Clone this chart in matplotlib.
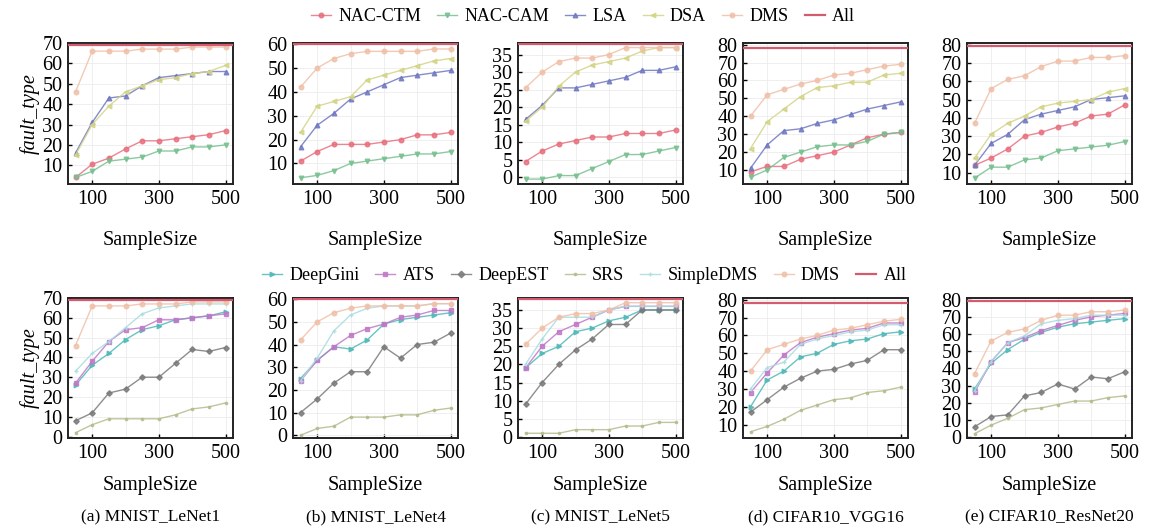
import matplotlib
matplotlib.use("Agg")
import matplotlib.pyplot as plt
from matplotlib.lines import Line2D

plt.rcParams['font.family'] = ['Liberation Serif', 'DejaVu Serif']
plt.rcParams['mathtext.fontset'] = 'stix'

sample_size = [50, 100, 150, 200, 250, 300, 350, 400, 450, 500]

captions = ['(a) MNIST_LeNet1', '(b) MNIST_LeNet4', '(c) MNIST_LeNet5',
            '(d) CIFAR10_VGG16', '(e) CIFAR10_ResNet20']

# total number of fault types per model ("All")
all_faults = [69, 60, 38, 78, 79]

# ---- top row: coverage based methods ----
nac_ctm = [
    [4, 10.5, 13.5, 18, 22, 22, 23, 24, 25, 27],
    [11, 15, 18, 18, 18, 19, 20, 22, 22, 23],
    [4.5, 7.5, 9.5, 10.5, 11.5, 11.5, 12.5, 12.5, 12.5, 13.5],
    [9, 12, 12, 16, 18, 20, 24, 28, 30, 31],
    [14, 18, 23, 30, 32, 35, 37, 41, 42, 47],
]
nac_cam = [
    [4, 7, 12, 13, 14, 17, 17, 19, 19, 20],
    [4, 5, 7, 10, 11, 12, 13, 14, 14, 15],
    [-0.5, -0.5, 0.5, 0.5, 2.5, 4.5, 6.5, 6.5, 7.5, 8.5],
    [6, 10, 17, 20, 23, 24, 24, 26, 30, 31],
    [7, 13, 13, 17, 18, 22, 23, 24, 25, 27],
]
lsa = [
    [16, 31, 43, 44, 49, 53, 54, 55, 56, 56],
    [17, 26, 31, 37, 40, 43, 46, 47, 48, 49],
    [16.5, 20.5, 25.5, 25.5, 26.5, 27.5, 28.5, 30.5, 30.5, 31.5],
    [11, 24, 32, 33, 36, 38, 41, 44, 46, 48],
    [14, 26, 31, 39, 42, 44, 46, 50, 51, 52],
]
dsa = [
    [15, 30, 39, 46, 49, 52, 53, 55, 56, 59],
    [23, 34, 36, 38, 45, 47, 49, 51, 53, 54],
    [16, 20, 26, 30, 32, 33, 34, 36, 37, 37],
    [22, 37, 44, 51, 56, 57, 59, 59, 63, 64],
    [18, 31, 37, 41, 46, 48, 49, 50, 54, 56],
]
dms = [
    [46, 66, 66, 66, 67, 67, 67, 68, 68, 68],
    [42, 50, 54, 56, 57, 57, 57, 57, 58, 58],
    [25.5, 30, 33, 34, 34, 35, 37, 37, 37, 37],
    [40, 52, 55, 58, 60, 63, 64, 66, 68, 69],
    [37, 56, 61, 63, 68, 71, 71, 73, 73, 74],
]

# ---- bottom row: prioritization / selection methods ----
deepgini = [
    [26, 36, 42, 49, 54, 56, 59, 60, 61, 63],
    [25, 33, 39, 38, 42, 49, 51, 52, 53, 54],
    [19, 23, 25, 29, 30, 32, 33, 35, 35, 35],
    [20, 35, 40, 48, 50, 55, 57, 58, 61, 62],
    [28, 43, 51, 57, 61, 64, 66, 67, 68, 69],
]
ats = [
    [27, 38, 48, 54, 55, 59, 59, 60, 61, 62],
    [24, 33, 39, 44, 47, 49, 52, 53, 55, 55],
    [19, 25, 29, 31, 33, 35, 36, 36, 36, 36],
    [28, 39, 49, 56, 59, 61, 63, 64, 67, 67],
    [26, 44, 55, 58, 62, 65, 68, 70, 71, 72],
]
deepest = [
    [8, 12, 22, 24, 30, 30, 37, 44, 43, 45],
    [10, 16, 23, 28, 28, 39, 34, 40, 41, 45],
    [9, 15, 20, 24, 27, 31, 31, 35, 35, 35],
    [17, 24, 31, 36, 40, 41, 44, 46, 52, 52],
    [6, 12, 13, 24, 26, 31, 28, 35, 34, 38],
]
srs = [
    [2, 6, 9, 9, 9, 9, 11, 14, 15, 17],
    [0, 3, 4, 8, 8, 8, 9, 9, 11, 12],
    [1, 1, 1, 2, 2, 2, 3, 3, 4, 4],
    [6, 9, 13, 18, 21, 24, 25, 28, 29, 31],
    [2, 7, 11, 16, 17, 19, 21, 21, 23, 24],
]
simple_dms = [
    [33, 42, 48, 55, 62, 65, 66, 67, 67, 67],
    [24, 34, 46, 53, 56, 57, 57, 57, 58, 58],
    [20, 27, 33, 33, 33, 35, 36, 36, 36, 36],
    [30, 42, 45, 55, 58, 60, 62, 63, 66, 66],
    [27, 44, 55, 59, 66, 68, 69, 71, 71, 71],
]

# y limits and ticks
top_ylim = [(0.8, 69.6), (1.4, 60.5), (-1.9, 38.3), (2.2, 80.9), (3.8, 80.9)]
top_yticks = [range(10, 71, 10), range(10, 61, 10), range(0, 36, 5),
              range(10, 81, 10), range(10, 81, 10)]
bot_ylim = [(-0.7, 70.0), (-1.2, 60.5), (-0.3, 38.3), (2.5, 81.0), (-0.5, 81.0)]
bot_yticks = [range(0, 71, 10), range(0, 61, 10), range(0, 36, 5),
              range(10, 81, 10), range(0, 81, 10)]

top_series = [
    ('NAC-CTM', nac_ctm, '#e8707e', 'o'),
    ('NAC-CAM', nac_cam, '#78c090', 'v'),
    ('LSA', lsa, '#7078c0', '^'),
    ('DSA', dsa, '#d4d488', '<'),
    ('DMS', dms, '#f0c0a8', 'o'),
]
bot_series = [
    ('DeepGini', deepgini, '#50b8b8', '>'),
    ('ATS', ats, '#c078c8', 's'),
    ('DeepEST', deepest, '#7a7a7a', 'D'),
    ('SRS', srs, '#b4bc8c', '.'),
    ('SimpleDMS', simple_dms, '#a8dce0', '+'),
    ('DMS', dms, '#f0c0a8', 'o'),
]
all_color = '#d45a6e'

fig = plt.figure(figsize=(11.5, 5.29), dpi=100)
W, H = 1150.0, 529.0
lefts = [68, 293, 518, 743, 967]
ax_w = 165


def style_axis(ax, ylim, yticks):
    ax.set_xlim(27.5, 522.5)
    ax.set_ylim(*ylim)
    ax.set_xticks([100, 300, 500])
    ax.set_xticks([200, 400], minor=True)
    ax.set_yticks(list(yticks))
    ax.grid(True, which='both', color='#ececec', lw=0.6, zorder=0)
    ax.tick_params(axis='both', which='major', labelsize=14.5, direction='in',
                   length=3, width=1, pad=4)
    ax.tick_params(axis='x', which='minor', length=0)
    for sp in ax.spines.values():
        sp.set_linewidth(1.4)
        sp.set_color('#222222')


def plot_row(y0_px, y1_px, series, ylims, yticks_all, label_y):
    axes = []
    for i in range(5):
        ax = fig.add_axes([lefts[i] / W, 1 - y1_px / H, ax_w / W, (y1_px - y0_px) / H])
        for name, data, color, marker in series:
            ms = 2.8 if marker == 'D' else 3.3
            ax.plot(sample_size, data[i], color=color, marker=marker, ms=ms,
                    lw=1.0, alpha=0.85, zorder=3)
        ax.axhline(all_faults[i], color=all_color, lw=1.6, zorder=4)
        style_axis(ax, ylims[i], yticks_all[i])
        ax.set_xlabel('SampleSize', fontsize=14.5)
        ax.xaxis.set_label_coords(0.5, label_y)
        if i == 0:
            ax.set_ylabel('fault_type', fontsize=14.5, style='italic', labelpad=2)
        axes.append(ax)
    return axes


top_axes = plot_row(43, 184, top_series, top_ylim, top_yticks, -0.33)
bot_axes = plot_row(298, 438, bot_series, bot_ylim, bot_yticks, -0.27)

for i, ax in enumerate(bot_axes):
    cx = (lefts[i] + ax_w / 2) / W
    fig.text(cx, 1 - 517 / H, captions[i], ha='center', va='center', fontsize=12.5)


def legend_handles(series):
    hs = [Line2D([], [], color=c, marker=m, ms=3.3, lw=1.0, alpha=0.85)
          for _, _, c, m in series]
    hs.append(Line2D([], [], color=all_color, lw=1.6))
    labels = [s[0] for s in series] + ['All']
    return hs, labels


h, l = legend_handles(top_series)
fig.legend(h, l, loc='center', bbox_to_anchor=(0.507, 1 - 17 / H), ncol=6,
           frameon=False, fontsize=13, handlelength=1.1, columnspacing=0.9,
           handletextpad=0.4)
h, l = legend_handles(bot_series)
fig.legend(h, l, loc='center', bbox_to_anchor=(0.508, 1 - 276 / H), ncol=7,
           frameon=False, fontsize=13, handlelength=1.1, columnspacing=0.9,
           handletextpad=0.4)

fig.savefig('out.png', dpi=100)
